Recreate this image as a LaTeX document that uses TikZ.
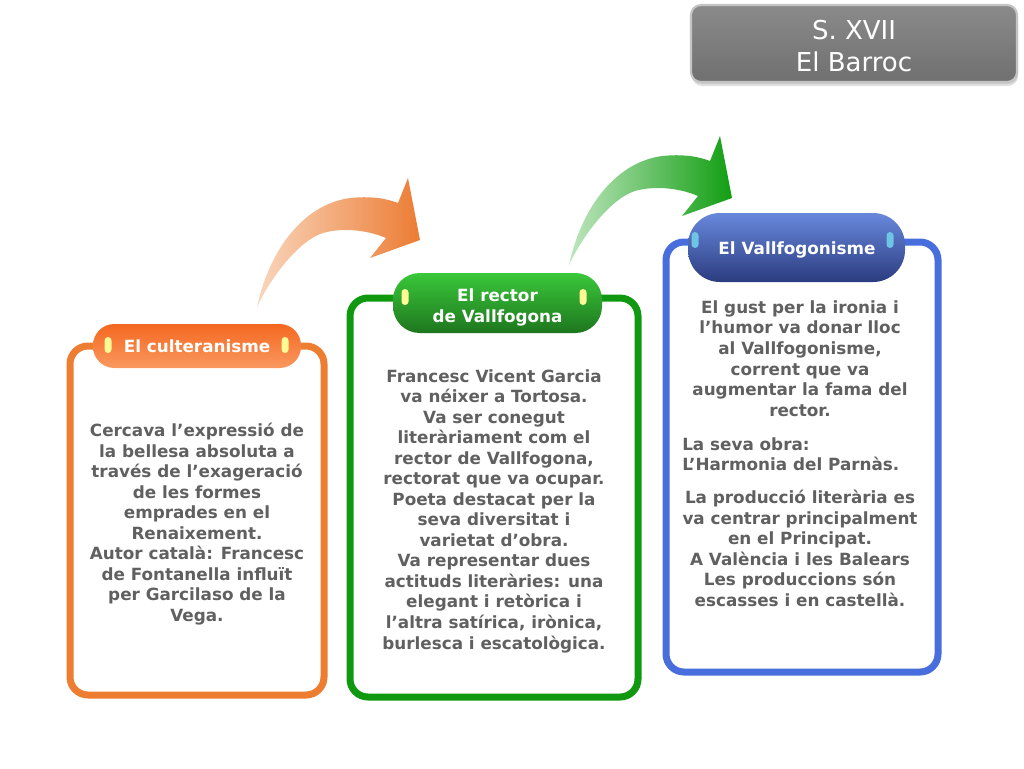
\documentclass[tikz,border=0pt]{standalone}
\usepackage{fontspec}
\setmainfont{DejaVu Sans}
\begin{document}
\begin{tikzpicture}[x=0.75pt,y=-0.75pt]
\definecolor{txtgray}{RGB}{96,96,96}
\definecolor{oline}{RGB}{237,125,49}
\definecolor{gline}{RGB}{16,152,16}
\definecolor{bline}{RGB}{72,110,222}
\definecolor{pillyel}{RGB}{255,250,150}
\definecolor{pillblue}{RGB}{110,196,228}
\tikzset{
  framebox/.style={draw=#1, fill=white, line width=5.25pt, rounded corners=13.5pt},
  tabshape/.style={rectangle, rounded corners=#1, inner sep=0pt},
  tabtext/.style={text=white, font=\bfseries\fontsize{12.6pt}{15.4pt}\selectfont, align=center, inner sep=0pt},
  bodytext/.style={text=txtgray, font=\bfseries\fontsize{12.6pt}{15.4pt}\selectfont, inner sep=0pt},
  pill/.style={fill=#1, rounded corners=2.6pt},
  titletext/.style={text=white, font=\fontsize{19.5pt}{24pt}\selectfont, align=center, inner sep=0pt}
}
\useasboundingbox (0,0) rectangle (1024,768);

% title box
\fill[black!12, rounded corners=7.5pt] (692,8) rectangle (1018,86);
\fill[black!20, rounded corners=7.5pt] (692,7) rectangle (1018,84);
\shade[top color={rgb,255:red,138;green,138;blue,138}, bottom color={rgb,255:red,112;green,112;blue,112},
  draw={rgb,255:red,196;green,196;blue,196}, line width=1.6pt, rounded corners=7.5pt] (691,5) rectangle (1017,82);
\node[titletext] (title) at (854,46) {S. XVII\\El Barroc};

% curved arrows
\def\arrowpath{(257,307) .. controls (268,255) and (300,205) .. (350,198)
  .. controls (370,196) and (385,198) .. (398,203) -- (408,178) -- (420,240) -- (370,258) -- (386,238)
  .. controls (365,229) and (340,228) .. (323,233) .. controls (300,240) and (272,275) .. (257,307) -- cycle}
\shade[left color={rgb,255:red,249;green,214;blue,188}, right color={rgb,255:red,236;green,124;blue,52}] \arrowpath;
\begin{scope}[shift={(312,-42)}]
\shade[left color={rgb,255:red,190;green,230;blue,190}, right color={rgb,255:red,18;green,158;blue,18}] \arrowpath;
\end{scope}

% frames
\draw[framebox=oline] (70,346) rectangle (324,695);
\draw[framebox=gline] (350,298) rectangle (638,697);
\draw[framebox=bline] (666,242) rectangle (938,672);

% tabs
\node[tabshape=16pt, minimum width=156pt, minimum height=33pt,
  top color={rgb,255:red,244;green,104;blue,32}, bottom color={rgb,255:red,250;green,152;blue,96}] (culttab) at (197,346) {};
\node[tabshape=20pt, minimum width=156.75pt, minimum height=45pt,
  top color={rgb,255:red,58;green,200;blue,58}, bottom color={rgb,255:red,30;green,118;blue,30}] (rectab) at (497.5,303) {};
\node[tabshape=24pt, minimum width=162.75pt, minimum height=51.75pt,
  top color={rgb,255:red,104;green,136;blue,220}, bottom color={rgb,255:red,44;green,60;blue,128}] (valltab) at (796.5,247.5) {};

% pills
\fill[pill=pillyel] (104.5,337) rectangle (111.5,353);
\fill[pill=pillyel] (281.5,337) rectangle (288.5,353);
\fill[pill=pillyel] (401.5,289) rectangle (408.5,305);
\fill[pill=pillyel] (579.5,289) rectangle (586.5,305);
\fill[pill=pillblue] (691.5,232) rectangle (698.5,248);
\fill[pill=pillblue] (886.5,232) rectangle (893.5,248);

% tab labels
\node[tabtext] (cultlabel) at (197,346) {El culteranisme};
\node[tabtext] (reclabel) at (497.5,307.5) {El rector\\de Vallfogona};
\node[tabtext] (valllabel) at (797,250) {El Vallfogonisme};

% body texts
\node[bodytext, align=center] (culttext) at (197,524) {Cercava l’expressió de\\la bellesa absoluta a\\través de l’exageració\\de les formes\\emprades en el\\Renaixement.\\Autor català: Francesc\\de Fontanella influït\\per Garcilaso de la\\Vega.};
\node[bodytext, align=center] (rectext) at (494,511) {Francesc Vicent Garcia\\va néixer a Tortosa.\\Va ser conegut\\literàriament com el\\rector de Vallfogona,\\rectorat que va ocupar.\\Poeta destacat per la\\seva diversitat i\\varietat d’obra.\\Va representar dues\\actituds literàries: una\\elegant i retòrica i\\l’altra satírica, irònica,\\burlesca i escatològica.};
\node[bodytext, align=center] (valltext) at (800,358.5) {El gust per la ironia i\\l’humor va donar lloc\\al Vallfogonisme,\\corrent que va\\augmentar la fama del\\rector.};
\node[bodytext, align=left, anchor=west] (obratext) at (682,454) {La seva obra:\\L’Harmonia del Parnàs.};
\node[bodytext, align=center] (prodtext) at (800,548.5) {La producció literària es\\va centrar principalment\\en el Principat.\\A València i les Balears\\Les produccions són\\escasses i en castellà.};
\end{tikzpicture}
\end{document}
